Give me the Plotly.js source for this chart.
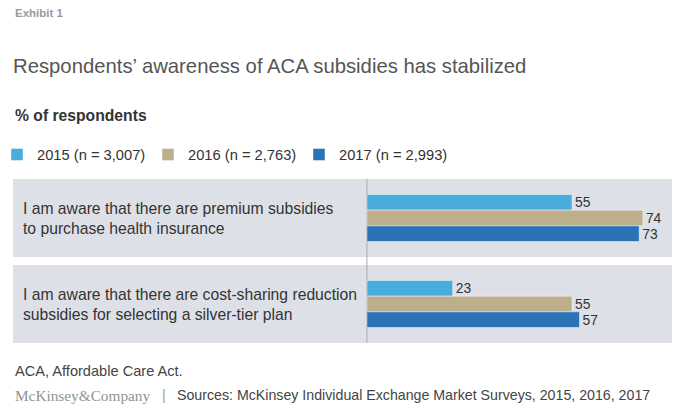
<!DOCTYPE html>
<html>
<head>
<meta charset="utf-8">
<script src="https://cdn.plot.ly/plotly-3.0.1.min.js"></script>
<style>html,body{margin:0;padding:0;background:#fff;}#chart{width:680px;height:413px;}</style>
</head>
<body>
<div id="chart"></div>
<script>
const categories = [
  "I am aware that there are premium subsidies<br>to purchase health insurance",
  "I am aware that there are cost-sharing reduction<br>subsidies for selecting a silver-tier plan"
];
const seriesNames = ["2015 (n = 3,007)", "2016 (n = 2,763)", "2017 (n = 2,993)"];
const values2015 = [55, 23];
const values2016 = [74, 55];
const values2017 = [73, 57];
const seriesValues = [values2015, values2016, values2017];
const colors = ["#4aabdd", "#bdae8c", "#2a73b7"];

const FONT = "'Liberation Sans', Arial, Helvetica, sans-serif";

const traces = seriesValues.map((vals, i) => ({
  type: 'bar',
  orientation: 'h',
  name: seriesNames[i],
  y: categories,
  x: vals,
  text: vals.map(String),
  textposition: 'outside',
  cliponaxis: false,
  textfont: {family: FONT, size: 15, color: '#333'},
  marker: {color: colors[i], line: {color: 'rgba(255,255,255,0.45)', width: 1}},
  hoverinfo: 'x+name'
}));

// pixel helpers for paper coords (plot area: x 13..672, y 179..343)
const L = 13, W = 659, T = 179, H = 164;
const px = x => (x - L) / W;
const py = y => (T + H - y) / H;

const half = 0.4535;
const shapes = categories.map((c, i) => ({
  type: 'rect', xref: 'paper', yref: 'y', x0: 0, x1: 1, y0: i - half, y1: i + half,
  fillcolor: '#dde1e7', line: {width: 0}, layer: 'below'
}));
shapes.push({type: 'line', xref: 'x', yref: 'paper', x0: 0, x1: 0, y0: 0, y1: 1,
  line: {color: '#a9abad', width: 1}, layer: 'below'});

const annotations = categories.map((c, i) => ({
  xref: 'paper', yref: 'y', x: px(21), y: i, xanchor: 'left', yanchor: 'middle',
  text: c, align: 'left', showarrow: false, font: {family: FONT, size: 15.7, color: '#333'}
}));
annotations.push(
  {xref: 'paper', yref: 'paper', x: px(13), y: py(13), xanchor: 'left', yanchor: 'middle',
   text: '<b>Exhibit 1</b>', showarrow: false, font: {family: FONT, size: 11.5, color: '#9a9a9a'}},
  {xref: 'paper', yref: 'paper', x: px(13), y: py(115), xanchor: 'left', yanchor: 'middle',
   text: '<b>% of respondents</b>', showarrow: false, font: {family: FONT, size: 15.7, color: '#333'}},
  {xref: 'paper', yref: 'paper', x: px(13), y: py(371), xanchor: 'left', yanchor: 'middle',
   text: 'ACA, Affordable Care Act.', showarrow: false, font: {family: FONT, size: 14.6, color: '#444'}},
  {xref: 'paper', yref: 'paper', x: px(13), y: py(395), xanchor: 'left', yanchor: 'middle',
   text: 'McKinsey&amp;Company', showarrow: false, font: {family: "'Liberation Serif', 'Times New Roman', serif", size: 15.3, color: '#8f9396'}},
  {xref: 'paper', yref: 'paper', x: px(160), y: py(395), xanchor: 'left', yanchor: 'middle',
   text: '|', showarrow: false, font: {family: FONT, size: 14, color: '#999'}},
  {xref: 'paper', yref: 'paper', x: px(175), y: py(395), xanchor: 'left', yanchor: 'middle',
   text: 'Sources: McKinsey Individual Exchange Market Surveys, 2015, 2016, 2017', showarrow: false,
   font: {family: FONT, size: 14.2, color: '#444'}}
);

const layout = {
  width: 680, height: 413,
  margin: {l: L, r: 680 - L - W, t: T, b: 413 - T - H, pad: 0, autoexpand: false},
  paper_bgcolor: '#fff', plot_bgcolor: 'rgba(0,0,0,0)',
  font: {family: FONT, color: '#333'},
  title: {text: 'Respondents’ awareness of ACA subsidies has stabilized',
    xref: 'container', yref: 'container', x: 13/680, xanchor: 'left', y: 1 - 65.5/413, yanchor: 'middle',
    font: {family: FONT, size: 20.3, color: '#555'}},
  barmode: 'group', bargap: 0.453, bargroupgap: 0,
  xaxis: {range: [-94.9, 81.8], showgrid: false, zeroline: false, showticklabels: false, ticks: '', fixedrange: true},
  yaxis: {type: 'category', range: [1 + half, -half], showgrid: false, zeroline: false, showticklabels: false, ticks: '', fixedrange: true},
  showlegend: true,
  legend: {orientation: 'h', x: px(-3), xanchor: 'left', y: py(155), yanchor: 'middle',
    font: {family: FONT, size: 14.7, color: '#333'}, entrywidth: 106, entrywidthmode: 'pixels',
    traceorder: 'normal', bgcolor: 'rgba(0,0,0,0)', borderwidth: 0},
  shapes: shapes,
  annotations: annotations
};

Plotly.newPlot('chart', traces, layout, {displayModeBar: false, staticPlot: true});
</script>
</body>
</html>
